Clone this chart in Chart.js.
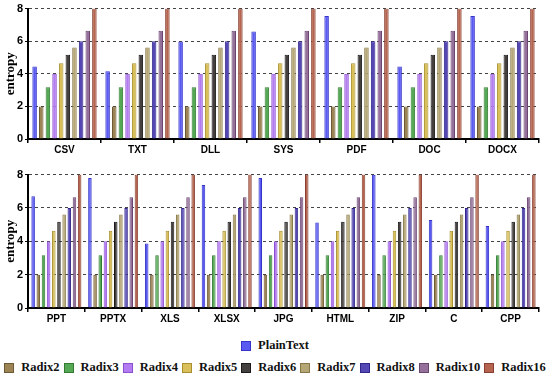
<!DOCTYPE html>
<html>
<head>
<meta charset="utf-8">
<script src="https://cdn.jsdelivr.net/npm/chart.js@4.4.1/dist/chart.umd.min.js"></script>
<style>
  html, body { margin: 0; padding: 0; background: #fff; }
  body { width: 550px; height: 376px; position: relative; overflow: hidden; }
  .panel { position: absolute; left: 0; width: 550px; }
  #top { top: 0; height: 157px; }
  #bottom { top: 166px; height: 160px; }
  .legend { position: absolute; left: 0; width: 550px; display: flex; justify-content: center;
    font: bold 12.5px "Liberation Serif", "Times New Roman", serif; color: #111; white-space: nowrap; }
  #leg1 { top: 338px; }
  #leg2 { top: 360px; }
  .item { display: flex; align-items: center; margin-right: 4px; }
  .item:last-child { margin-right: 0; }
  .box { width: 8px; height: 8px; border: 1px solid; margin-right: 7px; }
</style>
</head>
<body>
<div class="panel" id="top"><canvas id="c1"></canvas></div>
<div class="panel" id="bottom"><canvas id="c2"></canvas></div>
<div class="legend" id="leg1"></div>
<div class="legend" id="leg2"></div>
<script>
// categories
const topCats = ["CSV", "TXT", "DLL", "SYS", "PDF", "DOC", "DOCX"];
const bottomCats = ["PPT", "PPTX", "XLS", "XLSX", "JPG", "HTML", "ZIP", "C", "CPP"];

const seriesNames = ["PlainText", "Radix2", "Radix3", "Radix4", "Radix5", "Radix6", "Radix7", "Radix8", "Radix10", "Radix16"];

// entropy values, top panel (one array per series)
const plainTop   = [4.45, 4.15, 5.98, 6.6, 7.55, 4.45, 7.55];
const radix2Top  = [2.0, 2.0, 2.0, 2.0, 2.0, 2.0, 2.0];
const radix3Top  = [3.17, 3.17, 3.17, 3.17, 3.17, 3.17, 3.17];
const radix4Top  = [4.0, 4.0, 4.0, 4.0, 4.0, 4.0, 4.0];
const radix5Top  = [4.64, 4.64, 4.64, 4.64, 4.64, 4.64, 4.64];
const radix6Top  = [5.17, 5.17, 5.17, 5.17, 5.17, 5.17, 5.17];
const radix7Top  = [5.61, 5.61, 5.61, 5.61, 5.61, 5.61, 5.61];
const radix8Top  = [6.0, 6.0, 6.0, 6.0, 6.0, 6.0, 6.0];
const radix10Top = [6.64, 6.64, 6.64, 6.64, 6.64, 6.64, 6.64];
const radix16Top = [8.0, 8.0, 8.0, 8.0, 8.0, 8.0, 8.0];

// entropy values, bottom panel
const plainBottom   = [6.7, 7.8, 3.87, 7.37, 7.8, 5.12, 7.99, 5.28, 4.92];
const radix2Bottom  = [2.0, 2.0, 2.0, 2.0, 2.0, 2.0, 2.0, 2.0, 2.0];
const radix3Bottom  = [3.17, 3.17, 3.17, 3.17, 3.17, 3.17, 3.17, 3.17, 3.17];
const radix4Bottom  = [4.0, 4.0, 4.0, 4.0, 4.0, 4.0, 4.0, 4.0, 4.0];
const radix5Bottom  = [4.64, 4.64, 4.64, 4.64, 4.64, 4.64, 4.64, 4.64, 4.64];
const radix6Bottom  = [5.17, 5.17, 5.17, 5.17, 5.17, 5.17, 5.17, 5.17, 5.17];
const radix7Bottom  = [5.61, 5.61, 5.61, 5.61, 5.61, 5.61, 5.61, 5.61, 5.61];
const radix8Bottom  = [6.0, 6.0, 6.0, 6.0, 6.0, 6.0, 6.0, 6.0, 6.0];
const radix10Bottom = [6.64, 6.64, 6.64, 6.64, 6.64, 6.64, 6.64, 6.64, 6.64];
const radix16Bottom = [8.0, 8.0, 8.0, 8.0, 8.0, 8.0, 8.0, 8.0, 8.0];

const yTicks = [0, 2, 4, 6, 8];

const fills = ["#5a5af2", "#9c8455", "#55a955", "#b37cf0", "#d9c05a", "#454040", "#b5a675", "#5548b4", "#94709a", "#b5654f"];
const borders = ["#3434c8", "#6e5a34", "#327a32", "#8a50d0", "#a89030", "#1e1a1a", "#887848", "#30268a", "#6a4670", "#884030"];

const topSeries = [plainTop, radix2Top, radix3Top, radix4Top, radix5Top, radix6Top, radix7Top, radix8Top, radix10Top, radix16Top];
const bottomSeries = [plainBottom, radix2Bottom, radix3Bottom, radix4Bottom, radix5Bottom, radix6Bottom, radix7Bottom, radix8Bottom, radix10Bottom, radix16Bottom];

function makeDatasets(series) {
  return series.map((vals, i) => ({
    label: seriesNames[i],
    data: vals,
    backgroundColor: fills[i],
    borderColor: borders[i],
    borderWidth: 1,
    categoryPercentage: 0.91,
    barPercentage: 0.68,
  }));
}

function renderPanel(canvas, labels, series) {
  return new Chart(canvas.getContext("2d"), {
    type: "bar",
    data: { labels, datasets: makeDatasets(series) },
    options: {
      responsive: true,
      maintainAspectRatio: false,
      animation: false,
      layout: { padding: { left: 3, right: 11, top: 0, bottom: 0 } },
      plugins: { legend: { display: false }, tooltip: { enabled: false } },
      scales: {
        x: {
          grid: { drawOnChartArea: false, drawTicks: true, tickLength: 4, color: "#000", lineWidth: 1.5 },
          border: { display: true, color: "#000", width: 2 },
          ticks: { color: "#000", font: { family: "Liberation Sans, Arial", size: 10, weight: "bold" }, padding: 1 },
        },
        y: {
          min: 0,
          max: 8,
          afterBuildTicks: (axis) => { axis.ticks = yTicks.map(v => ({ value: v })); },
          afterFit: (axis) => { axis.width = 25; },
          grid: {
            color: (ctx) => (ctx.tick && ctx.tick.value === 0 ? "rgba(0,0,0,0)" : "#444"),
            tickBorderDash: [],
            tickLength: 3,
            tickColor: "#000",
            lineWidth: 1,
          },
          border: { display: true, color: "#000", width: 2, dash: [3, 3] },
          title: {
            display: true,
            text: "entropy",
            color: "#000",
            font: { family: "Liberation Serif", size: 13, weight: "bold" },
            padding: 0,
          },
          ticks: { color: "#000", font: { family: "Liberation Sans, Arial", size: 11, weight: "bold" }, padding: 2 },
        },
      },
    },
  });
}

renderPanel(document.getElementById("c1"), topCats, topSeries);
renderPanel(document.getElementById("c2"), bottomCats, bottomSeries);

function legendItem(i) {
  const item = document.createElement("div");
  item.className = "item";
  const box = document.createElement("span");
  box.className = "box";
  box.style.background = fills[i];
  box.style.borderColor = borders[i];
  const txt = document.createElement("span");
  txt.textContent = seriesNames[i];
  item.appendChild(box);
  item.appendChild(txt);
  return item;
}
document.getElementById("leg1").appendChild(legendItem(0));
for (let i = 1; i < seriesNames.length; i++) document.getElementById("leg2").appendChild(legendItem(i));
</script>
</body>
</html>
